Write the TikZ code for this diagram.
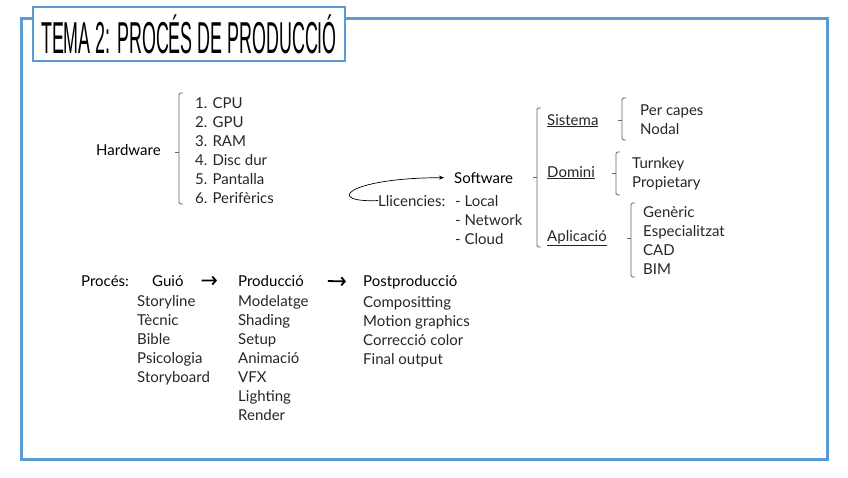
\documentclass[tikz,border=0pt]{standalone}
\usepackage{fontspec}
\setmainfont{Lato}
\newfontfamily\titlefont[FakeStretch=0.4]{Liberation Sans}
\usetikzlibrary{arrows.meta}

\definecolor{frameblue}{RGB}{91,155,213}

% bracket with a small tick in the middle: x, top, tick, bottom
\newcommand{\listbracket}[4]{%
  \draw[bracket_line] (#1+4,#2) -- (#1,#2) -- (#1,#4) -- (#1+4,#4);
  \draw[bracket_line] (#1-4,#3) -- (#1,#3);}

\begin{document}
\begin{tikzpicture}[
    x=1pt, y=-1pt,
    head_format/.style={anchor=base west, inner sep=0pt, align=left,
      font=\fontsize{15}{19}\selectfont},
    item_format/.style={head_format, text=black!85},
    bracket_line/.style={draw=black!60, line width=0.8pt, rounded corners=1.5pt},
    step_arrow/.style={-{Straight Barb[length=3.5pt,width=8pt]}, line width=1.8pt},
    ]
    \useasboundingbox (0,0) rectangle (848,477);

    % --- Frame and title ---
    \draw[frameblue, line width=3pt] (21,18) rectangle (827,459);
    \node[draw=frameblue, line width=2pt, fill=white, minimum width=312pt,
      minimum height=54pt, inner sep=0pt] (title) at (189,34)
      {\titlefont\fontsize{44.7}{46}\selectfont TEMA 2: PROCÉS DE PRODUCCIÓ};

    % --- Hardware (lists are placed by their last baseline) ---
    \node[head_format] (hw) at (96,155) {Hardware};
    \listbracket{179}{93}{152}{204}
    \node[item_format] (hwlist) at (195,203) {
      1. CPU \\
      2. GPU \\
      3. RAM \\
      4. Disc dur \\
      5. Pantalla \\
      6. Perifèrics
    };

    % --- Software and licences ---
    \node[head_format] (soft) at (454,183) {Software};
    \node[item_format] (llic) at (378,206) {Llicencies:};
    \node[item_format] (llist) at (455,244) {
      - Local \\
      - Network \\
      - Cloud
    };
    \draw[-{Stealth[length=5pt,width=4pt]}, line width=0.7pt, shorten >=10pt]
      (llic.west) .. controls (325,203) and (345,178) .. (soft.west);

    % --- Software branches ---
    \listbracket{537}{108}{177}{247}
    \node[item_format] (sis) at (547,125) {\underline{Sistema}};
    \node[item_format] (dom) at (547,177) {\underline{Domini}};
    \node[item_format] (apl) at (547,241) {\underline{Aplicació}};

    \listbracket{622}{98}{120}{140}
    \node[item_format] (sislist) at (640,134) {
      Per capes \\
      Nodal
    };
    \listbracket{616}{152}{173}{195}
    \node[item_format] (domlist) at (632,187) {
      Turnkey \\
      Propietary
    };
    \listbracket{631}{203}{238}{277}
    \node[item_format] (apllist) at (643,274) {
      Genèric \\
      Especialitzat \\
      CAD \\
      BIM
    };

    % --- Process ---
    \node[head_format] (proc) at (81,286) {Procés:};
    \node[head_format] (guio) at (152,286) {Guió};
    \node[head_format] (prod) at (238,286) {Producció};
    \node[head_format] (post) at (363,286) {Postproducció};
    \draw[step_arrow, shorten <=18pt, shorten >=21pt] (guio.east) -- (prod.west);
    \draw[step_arrow, shorten <=24pt, shorten >=17pt] (prod.east) -- (post.west);

    \node[item_format] (guiolist) at (137,382) {
      Storyline \\
      Tècnic \\
      Bible \\
      Psicologia \\
      Storyboard
    };
    \node[item_format] (prodlist) at (238,420) {
      Modelatge \\
      Shading \\
      Setup \\
      Animació \\
      VFX \\
      Lighting \\
      Render
    };
    \node[item_format] (postlist) at (363,364) {
      Compositting \\
      Motion graphics \\
      Correcció color \\
      Final output
    };

  \end{tikzpicture}
\end{document}
